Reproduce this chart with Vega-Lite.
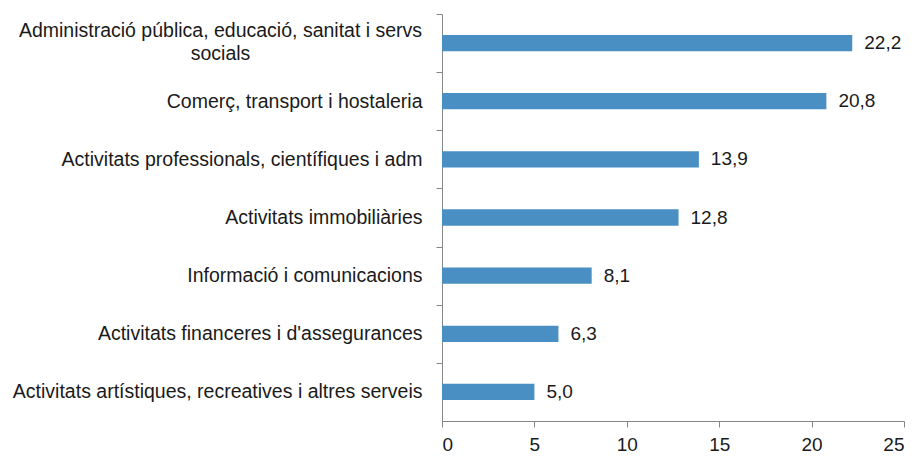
{
  "$schema": "https://vega.github.io/schema/vega-lite/v6.json",
  "width": 462,
  "height": 407,
  "padding": {"left": 12, "top": 13, "right": 0, "bottom": 0},
  "background": "white",
  "config": {
    "view": {"stroke": null},
    "font": "Liberation Sans",
    "locale": {"number": {"decimal": ",", "thousands": ".", "grouping": [3], "currency": ["", " €"]}}
  },
  "data": {
    "values": [
      {"sector": "Administració pública, educació, sanitat i servs socials", "value": 22.2},
      {"sector": "Comerç, transport i hostaleria", "value": 20.8},
      {"sector": "Activitats professionals, científiques i adm", "value": 13.9},
      {"sector": "Activitats immobiliàries", "value": 12.8},
      {"sector": "Informació i comunicacions", "value": 8.1},
      {"sector": "Activitats financeres i d'assegurances", "value": 6.3},
      {"sector": "Activitats artístiques, recreatives i altres serveis", "value": 5.0}
    ]
  },
  "encoding": {
    "y": {
      "field": "sector",
      "type": "nominal",
      "sort": null,
      "scale": {"paddingInner": 0.72, "paddingOuter": 0.36},
      "axis": {
        "title": null,
        "domainColor": "#868686",
        "tickColor": "#868686",
        "tickSize": 6,
        "tickOffset": -29.07,
        "labelOffset": {"condition": {"test": "indexof(datum.value, 'servs socials') >= 0", "value": 16}, "value": 29.07},
        "labelFontSize": 19.5,
        "labelColor": "#1a1a1a",
        "labelPadding": {"condition": {"test": "indexof(datum.value, 'servs socials') >= 0", "value": 216}, "value": 14},
        "labelAlign": {"condition": {"test": "indexof(datum.value, 'servs socials') >= 0", "value": "center"}, "value": "right"},
        "labelLimit": 0,
        "labelLineHeight": 23,
        "labelExpr": "indexof(datum.value, 'servs socials') >= 0 ? ['Administració pública, educació, sanitat i servs', 'socials'] : datum.value"
      }
    },
    "x": {
      "field": "value",
      "type": "quantitative",
      "scale": {"domain": [0, 25], "nice": false},
      "axis": {
        "title": null,
        "values": [0, 5, 10, 15, 20, 25],
        "grid": false,
        "domainColor": "#868686",
        "tickColor": "#868686",
        "tickSize": 6,
        "labelFontSize": 19,
        "labelColor": "#1a1a1a",
        "labelPadding": 8
      }
    }
  },
  "layer": [
    {"mark": {"type": "bar", "color": "#4A8FC3"}},
    {
      "mark": {"type": "text", "align": "left", "baseline": "middle", "dx": 12, "fontSize": 19, "color": "#1a1a1a"},
      "encoding": {"text": {"field": "value", "type": "quantitative", "format": ".1f"}}
    }
  ]
}
